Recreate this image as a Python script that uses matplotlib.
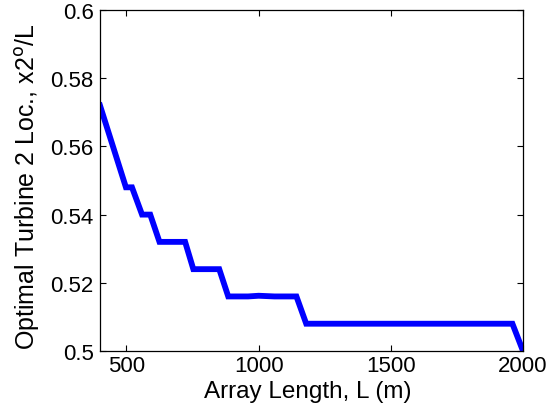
import matplotlib
matplotlib.use("Agg")
import matplotlib.pyplot as plt

plt.rcParams['font.family'] = ['Liberation Sans', 'DejaVu Sans']

array_length = [400, 498, 521, 559, 590, 625, 722, 753, 851, 885, 960, 1000, 1060, 1143, 1180, 1960, 2000]
opt_loc = [0.572, 0.548, 0.548, 0.540, 0.540, 0.532, 0.532, 0.524, 0.524, 0.516, 0.516, 0.5162, 0.516, 0.516, 0.508, 0.508, 0.500]

xticks = [500, 1000, 1500, 2000]
xtick_labels = ['500', '1000', '1500', '2000']
yticks = [0.5, 0.52, 0.54, 0.56, 0.58, 0.6]
ytick_labels = ['0.5', '0.52', '0.54', '0.56', '0.58', '0.6']

fig = plt.figure(figsize=(5.59, 4.14), dpi=100)
ax = fig.add_axes([100/559, 1 - 352/414, 423/559, 341/414])
ax.plot(array_length, opt_loc, color='#0000ff', linewidth=4.2, solid_joinstyle='miter', clip_on=True)
ax.set_xlim(400, 2000)
ax.set_ylim(0.5, 0.6)
ax.set_xticks(xticks)
ax.set_xticklabels(xtick_labels)
ax.set_yticks(yticks)
ax.set_yticklabels(ytick_labels)
ax.tick_params(direction='in', length=4, width=0.8, top=True, right=True,
               labelsize=16)
ax.tick_params(axis='x', pad=3)
ax.tick_params(axis='y', pad=4.5)
for s in ax.spines.values():
    s.set_linewidth(0.9)
ax.set_xlabel('Array Length, L (m)', fontsize=17.5)
ax.xaxis.set_label_coords(0.492, -0.085)
ax.set_ylabel(r'Optimal Turbine 2 Loc., x2$^{\mathrm{o}}$/L', fontsize=18)
ax.yaxis.set_label_coords(-0.138, 0.485)
fig.savefig('out.png', dpi=100)
